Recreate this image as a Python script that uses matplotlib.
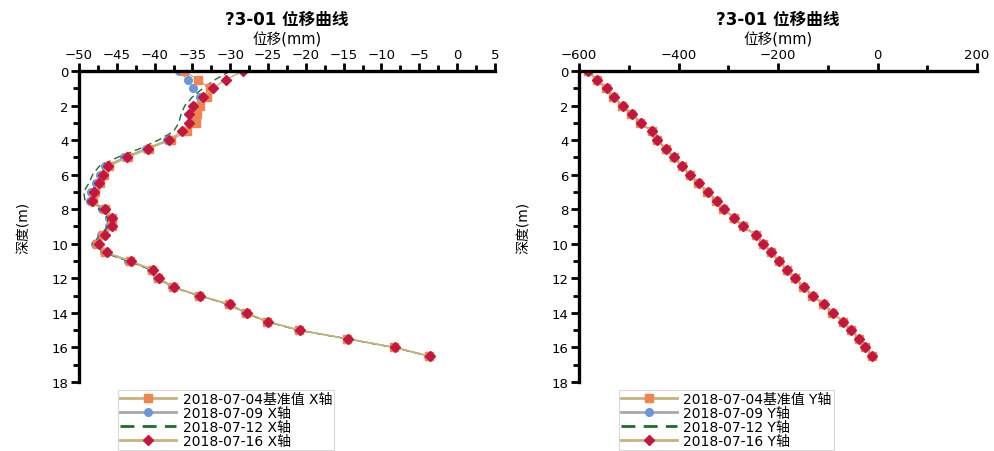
import numpy as np
import matplotlib
matplotlib.use("Agg")
import matplotlib.pyplot as plt
from matplotlib.ticker import MultipleLocator

plt.rcParams['font.family'] = ['DejaVu Sans', 'Noto Sans CJK SC']

# ---------------------------------------------------------------------------
# data
# ---------------------------------------------------------------------------
depth = [0.0, 0.5, 1.0, 1.5, 2.0, 2.5, 3.0, 3.5, 4.0, 4.5, 5.0, 5.5, 6.0, 6.5,
         7.0, 7.5, 8.0, 8.5, 9.0, 9.5, 10.0, 10.5, 11.0, 11.5, 12.0, 12.5,
         13.0, 13.5, 14.0, 14.5, 15.0, 15.5, 16.0, 16.5]

labels_x = ["2018-07-04基准值 X轴", "2018-07-09 X轴", "2018-07-12 X轴", "2018-07-16 X轴"]
labels_y = ["2018-07-04基准值 Y轴", "2018-07-09 Y轴", "2018-07-12 Y轴", "2018-07-16 Y轴"]

x_0704 = [-36.1, -34.3, -32.7, -33.1, -34.0, -34.4, -34.5, -35.7, -37.9, -40.8,
          -43.5, -46.0, -46.7, -47.2, -47.9, -48.2, -46.6, -45.7, -45.7, -46.8,
          -47.6, -46.5, -43.3, -40.3, -39.6, -37.6, -34.1, -30.2, -27.9, -25.1,
          -20.9, -14.5, -8.3, -3.7]
x_0709 = [-36.8, -35.6, -34.9, -34.0, -34.6, -35.0, -35.1, -36.2, -38.3, -41.2,
          -44.0, -46.5, -47.2, -47.7, -48.4, -48.6, -46.9, -46.0, -46.0, -47.1,
          -47.9, -46.7, -43.5, -40.5, -39.7, -37.7, -34.2, -30.3, -28.0, -25.2,
          -21.0, -14.6, -8.4, -3.8]
x_0712 = [-30.0, -32.0, -33.6, -35.0, -36.0, -36.5, -36.8, -37.5, -39.5, -42.0,
          -44.9, -47.3, -48.2, -48.7, -49.4, -49.2, -47.3, -46.2, -46.2, -47.2,
          -48.2, -46.8, -43.5, -40.5, -39.6, -37.6, -34.2, -30.2, -28.0, -25.2,
          -21.0, -14.6, -8.4, -3.7]
x_0716 = [-28.3, -30.6, -32.3, -33.6, -34.9, -35.5, -35.5, -36.4, -38.1, -40.9,
          -43.6, -46.2, -46.8, -47.3, -48.0, -48.3, -46.5, -45.6, -45.6, -46.6,
          -47.3, -46.3, -43.1, -40.2, -39.4, -37.4, -34.0, -30.0, -27.8, -25.0,
          -20.8, -14.4, -8.2, -3.6]

y_0704 = [-583, -565, -545, -531, -513, -495, -477, -454, -444, -426, -410, -394,
          -378, -360, -342, -324, -310, -289, -271, -245, -231, -215, -199, -183,
          -167, -149, -131, -109, -91, -70, -54, -38, -26, -12]
y_0709 = [-582, -564, -544, -530, -512, -494, -476, -453, -443, -425, -409, -393,
          -377, -359, -341, -323, -309, -288, -270, -244, -230, -214, -198, -182,
          -166, -148, -130, -108, -90, -69, -53, -37, -25, -11]
y_0712 = [-582, -564, -544, -530, -512, -494, -476, -453, -443, -425, -409, -393,
          -377, -359, -341, -323, -309, -288, -270, -244, -230, -214, -198, -182,
          -166, -148, -130, -108, -90, -69, -53, -37, -25, -11]
y_0716 = [-582, -564, -544, -530, -512, -494, -476, -453, -443, -425, -409, -393,
          -377, -359, -341, -323, -309, -288, -270, -244, -230, -214, -198, -182,
          -166, -148, -130, -108, -90, -69, -53, -37, -25, -11]

title = "?3-01 位移曲线"
xlabel = "位移(mm)"
ylabel = "深度(m)"

# series styles: (line colour, linestyle, marker, marker size, marker colour, zorder)
styles = [
    ("#c8b27c", "-", "s", 6, "#f0834e", 2.3),
    ("#a9a9a9", "-", "o", 5.5, "#6a97da", 2.0),
    ("#1f6b2e", (0, (5, 3)), None, 0, None, 2.2),
    ("#c8b27c", "-", "D", 5, "#c4163f", 2.4),
]


def draw(ax, series, labels, xlim, major, minor, legend_x):
    for vals, lab, (lc, ls, mk, ms, mc, z) in zip(series, labels, styles):
        ax.plot(vals, depth, color=lc, linestyle=ls, linewidth=1.0,
                marker=mk, markersize=ms, markerfacecolor=mc,
                markeredgecolor=mc, label=lab, zorder=z)
    ax.set_xlim(*xlim)
    ax.set_ylim(18, 0)
    ax.xaxis.tick_top()
    ax.xaxis.set_label_position("top")
    ax.xaxis.set_major_locator(MultipleLocator(major))
    ax.xaxis.set_minor_locator(MultipleLocator(minor))
    ax.yaxis.set_major_locator(MultipleLocator(2))
    ax.yaxis.set_minor_locator(MultipleLocator(1))
    for s in ("right", "bottom"):
        ax.spines[s].set_visible(False)
    for s in ("left", "top"):
        ax.spines[s].set_linewidth(2.4)
    ax.tick_params(which="major", length=6, width=2, labelsize=9.5, pad=1.5)
    ax.tick_params(which="minor", length=4, width=2)
    ax.set_title(title, fontsize=12, fontweight="bold", pad=5)
    ax.set_xlabel(xlabel, fontsize=10.5, labelpad=3)
    ax.set_ylabel(ylabel, fontsize=10, labelpad=15)
    leg = fig.legend(handles=ax.get_lines(), loc="upper left",
                     bbox_to_anchor=(legend_x, 0.15), fontsize=10,
                     handlelength=4.0, handletextpad=0.5, labelspacing=0.0,
                     borderpad=0.15, frameon=True, fancybox=False)
    leg.get_frame().set_edgecolor("#cfcfcf")
    leg.get_frame().set_linewidth(0.8)
    for ln in leg.get_lines():
        ln.set_linewidth(2.0)


fig = plt.figure(figsize=(9.95, 4.52), dpi=100)
ax1 = fig.add_axes([0.0794, 0.1527, 0.418, 0.688])
ax2 = fig.add_axes([0.582, 0.1527, 0.40, 0.688])

draw(ax1, [x_0704, x_0709, x_0712, x_0716], labels_x, (-50, 5), 5, 2.5, 0.112)
draw(ax2, [y_0704, y_0709, y_0712, y_0716], labels_y, (-600, 200), 200, 100, 0.615)

fig.savefig("out.png", dpi=100)
